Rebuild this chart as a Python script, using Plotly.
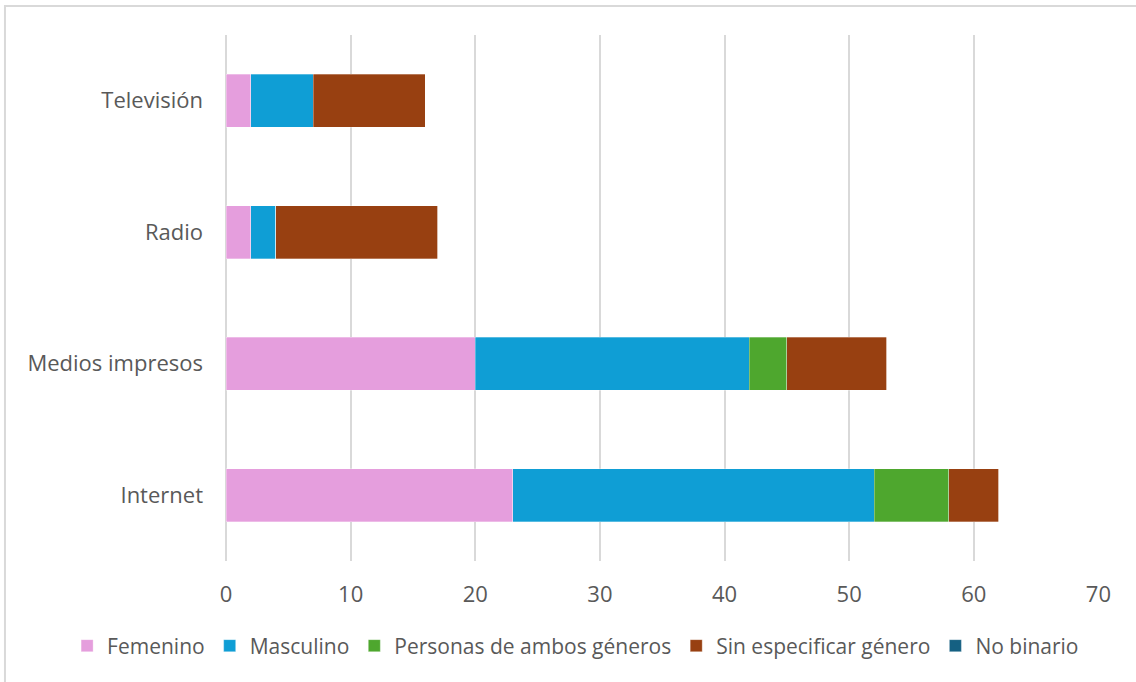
import plotly.graph_objects as go

categories = ["Televisión", "Radio", "Medios impresos", "Internet"]
series_names = ["Femenino", "Masculino", "Personas de ambos géneros", "Sin especificar género", "No binario"]
femenino = [2, 2, 20, 23]
masculino = [5, 2, 22, 29]
ambos = [0, 0, 3, 6]
sin_especificar = [9, 13, 8, 4]
no_binario = [0, 0, 0, 0]
x_ticks = [0, 10, 20, 30, 40, 50, 60, 70]

colors = ["#E59EDD", "#0F9ED5", "#4EA72E", "#984011", "#156082"]
values = [femenino, masculino, ambos, sin_especificar, no_binario]

fig = go.Figure()
for name, vals, col in zip(series_names, values, colors):
    fig.add_trace(go.Bar(
        y=categories, x=vals, name=name, orientation="h",
        marker=dict(color=col, line=dict(color="rgba(255,255,255,0.6)", width=0.5)),
    ))

font_family = "Open Sans"
fig.update_layout(
    barmode="stack",
    bargap=0.6,
    width=1136, height=682,
    margin=dict(l=226, r=37, t=35, b=121),
    paper_bgcolor="white", plot_bgcolor="white",
    font=dict(family=font_family, size=22, color="#595959"),
    showlegend=True,
    legend=dict(orientation="h", xref="paper", x=-0.182, xanchor="left",
                yref="paper", y=-0.1616, yanchor="middle",
                traceorder="normal", font=dict(size=21, color="#595959"),
                itemwidth=30, tracegroupgap=0),
    xaxis=dict(range=[0, 70.05], tickvals=x_ticks, showgrid=True, gridcolor="#D9D9D9",
               gridwidth=2, zeroline=True, zerolinecolor="#D9D9D9", zerolinewidth=2,
               showline=False, ticks="", ticklabelstandoff=18, fixedrange=True),
    yaxis=dict(categoryorder="array", categoryarray=categories, autorange="reversed",
               showgrid=False, zeroline=False, showline=False, ticks="",
               ticklabelstandoff=22),
    shapes=[dict(type="rect", xref="paper", yref="paper",
                 x0=-0.2532, x1=1.06, y0=-0.26, y1=1.0551,
                 line=dict(color="#D9D9D9", width=2), layer="below")],
)

fig.write_html("out.html", config={"displayModeBar": False},
               post_script="document.body.style.margin='0';")
